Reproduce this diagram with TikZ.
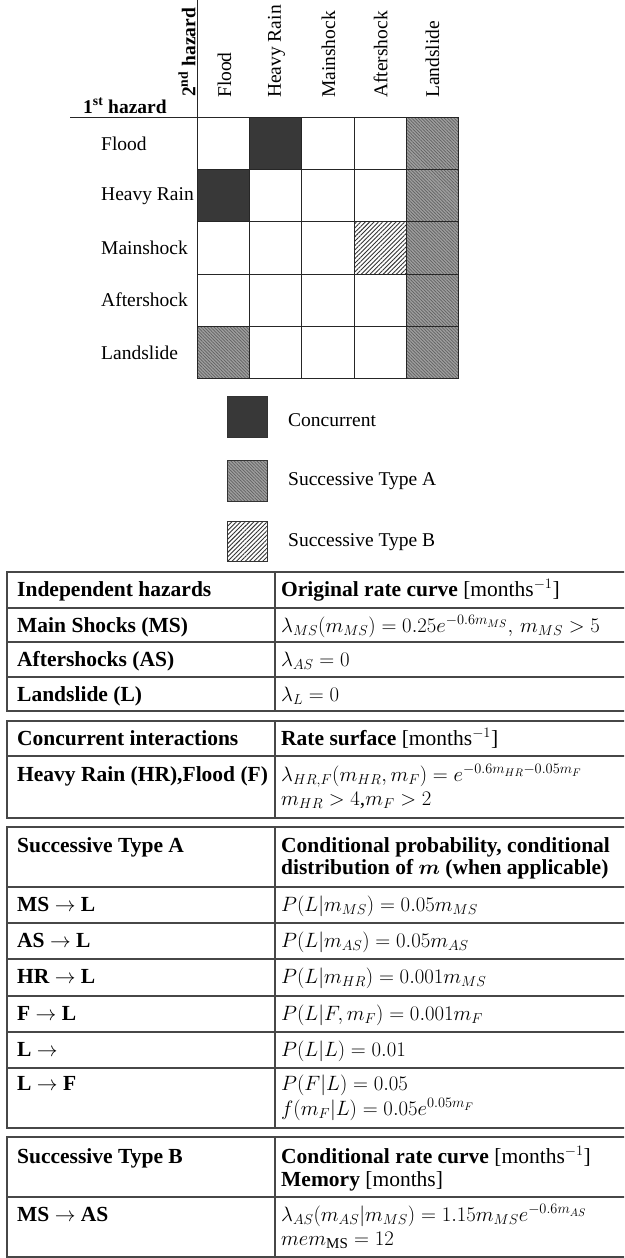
\documentclass[tikz,border=0pt]{standalone}
\usepackage{fontspec}
\setmainfont{Liberation Serif}
\usepackage{amsmath}
\usetikzlibrary{patterns.meta}
\tikzset{
  lab/.style={font=\fontsize{19.5}{23}\selectfont, inner sep=0pt},
  blab/.style={font=\fontsize{19.5}{23}\selectfont\bfseries, inner sep=0pt},
  gridline/.style={draw=black!85, line width=0.9pt},
  tb/.style={draw=black!72, line width=1.4pt},
  tx/.style={font=\fontsize{21.5}{23}\selectfont, inner sep=0pt, anchor=base west},
  conc/.style={fill=black!78},
  typeA/.style={preaction={fill=black!38}, pattern={Lines[angle=-45,distance=2.3pt,line width=0.7pt]}, pattern color=black!62},
  typeB/.style={preaction={fill=white}, pattern={Lines[angle=45,distance=3.1pt,line width=0.9pt]}, pattern color=black!80},
  legbox/.style={draw=black!80, line width=0.8pt},
}
\begin{document}
\begin{tikzpicture}[x=1pt,y=-1pt]
\useasboundingbox (0,0) rectangle (624,1258);
\clip (0,0) rectangle (624,1258);
\fill[white] (0,0) rectangle (624,1258);

% ---------- matrix cells ----------
\fill[conc]  (249.7,117.5) rectangle ++(52.2,52.2);
\fill[conc]  (197.5,169.7) rectangle ++(52.2,52.2);
\fill[typeA] (406.3,117.5) rectangle ++(52.2,52.2);
\fill[typeA] (406.3,169.7) rectangle ++(52.2,52.2);
\fill[typeA] (406.3,221.9) rectangle ++(52.2,52.2);
\fill[typeA] (406.3,274.1) rectangle ++(52.2,52.2);
\fill[typeA] (406.3,326.3) rectangle ++(52.2,52.2);
\fill[typeA] (197.5,326.3) rectangle ++(52.2,52.2);
\fill[typeB] (354.1,221.9) rectangle ++(52.2,52.2);
\foreach \i in {0,...,4}{
  \foreach \j in {0,...,4}{
    \draw[gridline] ({197.5+52.2*\j},{117.5+52.2*\i}) rectangle ++(52.2,52.2);
  }
}
% header lines
\draw[gridline] (197.5,0) -- (197.5,117.5);
\draw[gridline] (70,117.5) -- (197.5,117.5);

% column labels
\node[lab, rotate=90, anchor=west] (cF)  at (224.5,98) {Flood};
\node[lab, rotate=90, anchor=west] (cHR) at (276.5,98) {Heavy Rain};
\node[lab, rotate=90, anchor=west] (cMS) at (328.5,98) {Mainshock};
\node[lab, rotate=90, anchor=west] (cAS) at (380.5,98) {Aftershock};
\node[lab, rotate=90, anchor=west] (cL)  at (432.5,98) {Landslide};
\node[blab, rotate=90, anchor=west] (second) at (187,97) {2\textsuperscript{nd} hazard};
\node[blab, anchor=base west] (first) at (83,113) {1\textsuperscript{st} hazard};

% row labels
\node[lab, anchor=west] (rF)  at (101,143.6) {Flood};
\node[lab, anchor=west] (rHR) at (101,195.8) {Heavy Rain};
\node[lab, anchor=west] (rMS) at (101,248.0) {Mainshock};
\node[lab, anchor=west] (rAS) at (101,300.2) {Aftershock};
\node[lab, anchor=west] (rL)  at (101,352.4) {Landslide};

% legend
\fill[conc]  (227,396) rectangle (267,437);
\draw[legbox] (227,396) rectangle (267,437);
\fill[typeA] (227,460) rectangle (267,501);
\draw[legbox] (227,460) rectangle (267,501);
\fill[typeB] (227,521) rectangle (267,561);
\draw[legbox] (227,521) rectangle (267,561);
\node[lab, anchor=west] (lgC) at (288,420) {Concurrent};
\node[lab, anchor=west] (lgA) at (288,481) {Successive Type A};
\node[lab, anchor=west] (lgB) at (288,542) {Successive Type B};

% ---------- table 1 ----------
\draw[tb] (7,572) rectangle (632,711);
\draw[tb] (275,572) -- (275,711);
\draw[tb] (7,608) -- (632,608);
\draw[tb] (7,642) -- (632,642);
\draw[tb] (7,677) -- (632,677);
\node[tx] (t1a) at (17,596.5) {\textbf{Independent hazards}};
\node[tx] (t1b) at (281,596.5) {\textbf{Original rate curve} [months$^{-1}$]};
\node[tx] (t1c) at (17,632.5) {\textbf{Main Shocks (MS)}};
\node[tx] (t1d) at (281,632.5) {$\lambda_{MS}(m_{MS}) = 0.25e^{-0.6m_{MS}},\, m_{MS} > 5$};
\node[tx] (t1e) at (17,666.5) {\textbf{Aftershocks (AS)}};
\node[tx] (t1f) at (281,666.5) {$\lambda_{AS} = 0$};
\node[tx] (t1g) at (17,701) {\textbf{Landslide (L)}};
\node[tx] (t1h) at (281,701) {$\lambda_{L} = 0$};

% ---------- table 2 ----------
\draw[tb] (7,721) rectangle (632,818);
\draw[tb] (275,721) -- (275,818);
\draw[tb] (7,756) -- (632,756);
\node[tx] (t2a) at (17,745.5) {\textbf{Concurrent interactions}};
\node[tx] (t2b) at (281,745.5) {\textbf{Rate surface} [months$^{-1}$]};
\node[tx] (t2c) at (17,781) {\textbf{Heavy Rain (HR),Flood (F)}};
\node[tx] (t2d) at (281,781) {$\lambda_{HR,F}(m_{HR},m_F) = e^{-0.6m_{HR}-0.05m_F}$};
\node[tx] (t2e) at (281,805) {$m_{HR} > 4$,$m_F > 2$};

% ---------- table 3 ----------
\draw[tb] (7,827) rectangle (632,1128);
\draw[tb] (275,827) -- (275,1128);
\draw[tb] (7,887) -- (632,887);
\draw[tb] (7,923) -- (632,923);
\draw[tb] (7,959) -- (632,959);
\draw[tb] (7,996) -- (632,996);
\draw[tb] (7,1032) -- (632,1032);
\draw[tb] (7,1068) -- (632,1068);
\node[tx] (t3a) at (17,852) {\textbf{Successive Type A}};
\node[tx] (t3b) at (281,852) {\textbf{Conditional probability, conditional}};
\node[tx] (t3c) at (281,874) {\textbf{distribution of $\boldsymbol{m}$ (when applicable)}};
\node[tx] (t3d) at (17,911) {\textbf{MS $\rightarrow$ L}};
\node[tx] (t3e) at (281,911) {$P(L|m_{MS}) = 0.05m_{MS}$};
\node[tx] (t3f) at (17,947) {\textbf{AS $\rightarrow$ L}};
\node[tx] (t3g) at (281,947) {$P(L|m_{AS}) = 0.05m_{AS}$};
\node[tx] (t3h) at (17,983.5) {\textbf{HR $\rightarrow$ L}};
\node[tx] (t3i) at (281,983.5) {$P(L|m_{HR}) = 0.001m_{MS}$};
\node[tx] (t3j) at (17,1020) {\textbf{F $\rightarrow$ L}};
\node[tx] (t3k) at (281,1020) {$P(L|F,m_F) = 0.001m_F$};
\node[tx] (t3l) at (17,1056) {\textbf{L $\rightarrow$}};
\node[tx] (t3m) at (281,1056) {$P(L|L) = 0.01$};
\node[tx] (t3n) at (17,1090) {\textbf{L $\rightarrow$ F}};
\node[tx] (t3o) at (281,1090) {$P(F|L) = 0.05$};
\node[tx] (t3p) at (281,1115) {$f(m_F|L) = 0.05e^{0.05m_F}$};

% ---------- table 4 ----------
\draw[tb] (7,1137) rectangle (632,1257);
\draw[tb] (275,1137) -- (275,1257);
\draw[tb] (7,1197) -- (632,1197);
\node[tx] (t4a) at (17,1163) {\textbf{Successive Type B}};
\node[tx] (t4b) at (281,1163) {\textbf{Conditional rate curve} [months$^{-1}$]};
\node[tx] (t4c) at (281,1186) {\textbf{Memory} [months]};
\node[tx] (t4d) at (17,1221) {\textbf{MS $\rightarrow$ AS}};
\node[tx] (t4e) at (281,1221) {$\lambda_{AS}(m_{AS}|m_{MS}) = 1.15m_{MS}e^{-0.6m_{AS}}$};
\node[tx] (t4f) at (281,1245) {$mem_{\mathrm{MS}} = 12$};
\end{tikzpicture}
\end{document}
